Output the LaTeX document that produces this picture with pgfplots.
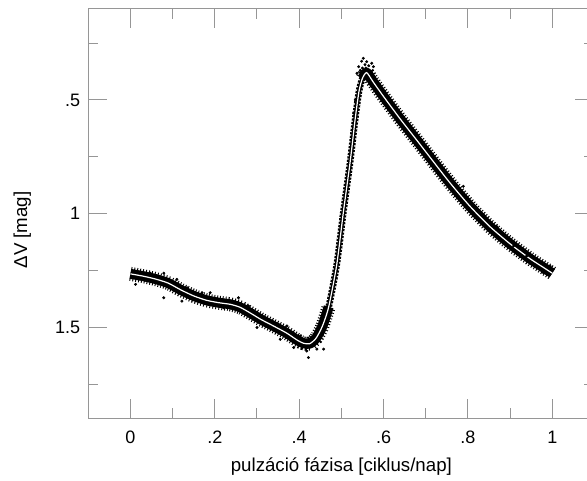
\documentclass[border=0pt]{standalone}
\usepackage{fontspec}
\setmainfont{Liberation Sans}
\usepackage{pgfplots}
\usepackage{pgfplotstable}
\pgfplotsset{compat=1.18}
\definecolor{axgray}{RGB}{150,150,150}

\pgfplotstableread{
x y
0.000 1.265
0.030 1.275
0.060 1.288
0.090 1.306
0.120 1.336
0.150 1.362
0.180 1.381
0.210 1.392
0.237 1.399
0.260 1.412
0.285 1.438
0.310 1.466
0.340 1.495
0.370 1.525
0.395 1.556
0.410 1.570
0.425 1.572
0.440 1.548
0.455 1.495
0.470 1.410
0.489 1.225
0.505 0.990
0.521 0.770
0.533 0.580
0.542 0.460
0.550 0.405
0.560 0.380
0.575 0.420
0.600 0.485
0.640 0.585
0.680 0.680
0.710 0.752
0.758 0.866
0.805 0.968
0.852 1.057
0.900 1.133
0.947 1.198
0.975 1.232
1.000 1.262
}\fit

\pgfplotstableread{
x y
0.012 1.311
0.047 1.262
0.079 1.262
0.079 1.370
0.110 1.289
0.122 1.385
0.134 1.326
0.166 1.355
0.170 1.348
0.189 1.348
0.221 1.414
0.256 1.370
0.280 1.406
0.300 1.501
0.355 1.553
0.371 1.494
0.387 1.589
0.403 1.538
0.418 1.604
0.422 1.633
0.442 1.596
0.458 1.596
0.552 0.317
0.560 0.332
0.541 0.354
0.537 0.383
0.533 0.500
0.529 0.558
0.592 0.486
0.576 0.354
0.572 0.339
0.548 0.330
0.556 0.345
0.545 0.370
0.565 0.350
0.550 0.360
0.558 0.360
0.722 0.807
0.789 0.880
0.821 0.982
0.868 1.056
0.908 1.143
0.939 1.187
0.971 1.216
0.979 1.260
0.995 1.231
}\outl

\begin{document}
\begin{tikzpicture}
\begin{axis}[
  scale only axis, width=379.65pt, height=307pt,
  xmin=-0.1, xmax=1.1, ymin=0.1, ymax=1.9, y dir=reverse,
  axis line style={axgray, line width=0.75pt},
  every tick/.style={axgray, line width=0.75pt},
  major tick length=14.25pt, minor tick length=7.5pt,
  tick align=inside,
  xtick={0,0.2,0.4,0.6,0.8,1}, xticklabels={0,.2,.4,.6,.8,1},
  minor xtick={0.1,0.3,0.5,0.7,0.9},
  ytick={0.5,1,1.5}, yticklabels={.5,1,1.5},
  minor ytick={0.25,0.75,1.25,1.75},
  /pgf/number format/assume math mode=true,
  tick label style={font=\fontsize{13.5}{16}\selectfont},
  xticklabel style={yshift=-6pt},
  yticklabel style={xshift=-2.5pt},
  label style={font=\fontsize{14}{17}\selectfont},
  xlabel={pulzáció fázisa [ciklus/nap]},
  xlabel style={at={(axis description cs:0.5,-0.131)}, anchor=base},
  ylabel={ΔV [mag]},
  ylabel style={at={(axis description cs:-0.121,0.46)}, anchor=base},
]
% ragged edge of the point cloud
\addplot[black, line width=10.5pt, dash pattern=on 0.7pt off 1.5pt, line join=round, smooth, tension=0.4,
  restrict x to domain=0:0.47] table {\fit};
\addplot[black, line width=10.5pt, dash pattern=on 0.7pt off 1.5pt, line join=round, smooth, tension=0.4,
  restrict x to domain=0.55:1] table {\fit};
\addplot[black, line width=5pt, dash pattern=on 1.6pt off 1pt, smooth, tension=0.4,
  restrict x to domain=0.44:0.56] table {\fit};
% dense core of the point cloud
\addplot[black, line width=7.5pt, line join=round, line cap=butt, smooth, tension=0.4,
  restrict x to domain=0:0.47] table {\fit};
\addplot[black, line width=3pt, line join=round, line cap=round, smooth, tension=0.4,
  restrict x to domain=0.44:0.56] table {\fit};
\addplot[black, line width=7.5pt, line join=round, line cap=butt, smooth, tension=0.4,
  restrict x to domain=0.55:1] table {\fit};
\addplot[only marks, mark=*, mark size=0.9pt, black] table {\outl};
\addplot[white, line width=0.9pt, smooth, tension=0.4] table {\fit};
\end{axis}
\path (current axis.south west) coordinate (ll);
\pgfresetboundingbox
\useasboundingbox ([shift={(-66.2pt,-46.3pt)}]ll) rectangle ++(440.25pt,360pt);
\end{tikzpicture}
\end{document}
